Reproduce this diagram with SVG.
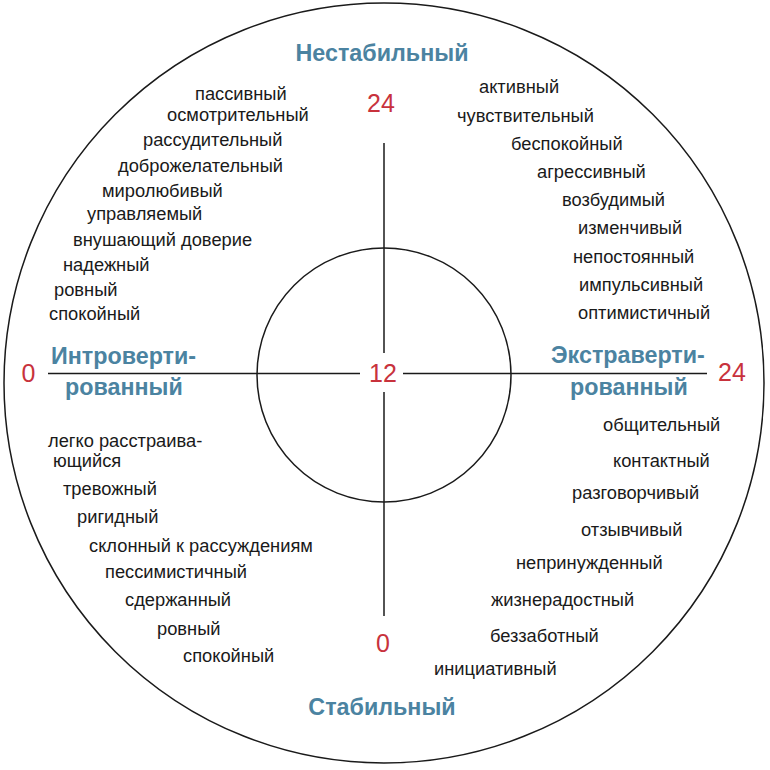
<svg xmlns="http://www.w3.org/2000/svg" width="770" height="770" viewBox="0 0 770 770">
<style>
.ln{stroke:#1a1a1a;stroke-width:1.5;fill:none}
.t{font-family:"Liberation Sans",Arial,sans-serif;font-size:18.3px;fill:#1a1a1a}
.h{font-family:"Liberation Sans",Arial,sans-serif;font-size:23.3px;font-weight:bold;fill:#4b83a1}
.n{font-family:"Liberation Sans",Arial,sans-serif;font-size:25px;fill:#c8323c}
</style>
<rect width="770" height="770" fill="#ffffff"/>
<g id="outer-circle"><circle class="ln" cx="384" cy="383" r="380"/></g>
<g id="inner-circle"><circle class="ln" cx="384" cy="375" r="127"/></g>
<g id="connectors">
<line class="ln" x1="48" y1="373.5" x2="360" y2="373.5"/>
<line class="ln" x1="403" y1="373.5" x2="707" y2="373.5"/>
<line class="ln" x1="384" y1="143" x2="384" y2="353"/>
<line class="ln" x1="384" y1="392" x2="384" y2="616"/>
</g>
<g id="scale">
<text class="n" x="381" y="112" text-anchor="middle">24</text>
<text class="n" x="383" y="382" text-anchor="middle">12</text>
<text class="n" x="383" y="652" text-anchor="middle">0</text>
<text class="n" x="28.5" y="382" text-anchor="middle">0</text>
<text class="n" x="732" y="381" text-anchor="middle">24</text>
</g>
<g id="unstable"><text class="h" x="382" y="61" text-anchor="middle">Нестабильный</text></g>
<g id="stable"><text class="h" x="382" y="715" text-anchor="middle">Стабильный</text></g>
<g id="introverted">
<text class="h" x="51" y="364">Интроверти-</text>
<text class="h" x="65" y="395">рованный</text>
</g>
<g id="extraverted">
<text class="h" x="551" y="363">Экстраверти-</text>
<text class="h" x="570" y="395">рованный</text>
</g>
<g id="top-left">
<text class="t" x="195" y="100">пассивный</text>
<text class="t" x="167" y="121">осмотрительный</text>
<text class="t" x="143" y="146">рассудительный</text>
<text class="t" x="118" y="172">доброжелательный</text>
<text class="t" x="102" y="197">миролюбивый</text>
<text class="t" x="87" y="220">управляемый</text>
<text class="t" x="73" y="246">внушающий доверие</text>
<text class="t" x="63" y="271">надежный</text>
<text class="t" x="54" y="296">ровный</text>
<text class="t" x="49" y="320">спокойный</text>
</g>
<g id="top-right">
<text class="t" x="479" y="93">активный</text>
<text class="t" x="457" y="122">чувствительный</text>
<text class="t" x="511" y="150">беспокойный</text>
<text class="t" x="537" y="178">агрессивный</text>
<text class="t" x="562" y="206">возбудимый</text>
<text class="t" x="578" y="234">изменчивый</text>
<text class="t" x="573" y="263">непостоянный</text>
<text class="t" x="579" y="291">импульсивный</text>
<text class="t" x="578" y="319">оптимистичный</text>
</g>
<g id="bottom-left">
<text class="t" x="48" y="447">легко расстраива-</text>
<text class="t" x="53" y="467">ющийся</text>
<text class="t" x="63" y="495">тревожный</text>
<text class="t" x="77" y="523">ригидный</text>
<text class="t" x="89" y="552">склонный к рассуждениям</text>
<text class="t" x="105" y="578">пессимистичный</text>
<text class="t" x="125" y="606">сдержанный</text>
<text class="t" x="157" y="635">ровный</text>
<text class="t" x="183" y="662">спокойный</text>
</g>
<g id="bottom-right">
<text class="t" x="603" y="431">общительный</text>
<text class="t" x="613" y="467">контактный</text>
<text class="t" x="572" y="499">разговорчивый</text>
<text class="t" x="581" y="536">отзывчивый</text>
<text class="t" x="516" y="569">непринужденный</text>
<text class="t" x="491" y="606">жизнерадостный</text>
<text class="t" x="490" y="642">беззаботный</text>
<text class="t" x="434" y="675">инициативный</text>
</g>
</svg>
